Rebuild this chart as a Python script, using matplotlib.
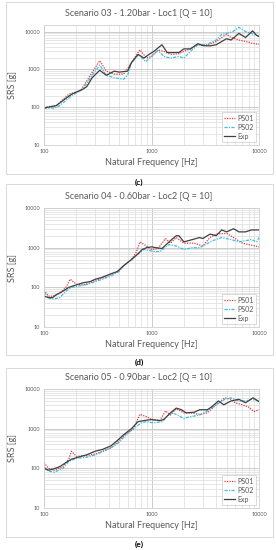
import numpy as np
import matplotlib
matplotlib.use('Agg')
import matplotlib.pyplot as plt
from matplotlib.patches import Rectangle
from matplotlib.ticker import FixedLocator, LogLocator, NullFormatter

plt.rcParams['font.family'] = ['Lato', 'DejaVu Sans']

# Scenario 03 - Loc1
f3_exp = [100, 130, 150, 180, 230, 250, 280, 330, 380, 450, 500, 600, 650, 750, 850, 950, 1050, 1250, 1400, 1600, 1800,
          2000, 2300, 2700, 3000, 3500, 4000, 4500, 5000, 5500, 6500, 7500, 8700, 9500, 10000]
s3_exp = [95, 110, 150, 220, 300, 350, 600, 950, 700, 900, 850, 900, 1500, 2500, 2000, 2500, 3000, 4500, 2800, 2800, 2800,
          3500, 3500, 4800, 4300, 4200, 4500, 5500, 6500, 6000, 9000, 7000, 10500, 8000, 7500]
f3_ps01 = [100, 130, 170, 220, 270, 330, 380, 450, 550, 650, 780, 900, 1000, 1150, 1300, 1500, 1800, 2000, 2300, 2700,
           3200, 4000, 4500, 5000, 5500, 6500, 7500, 8500, 10000]
s3_ps01 = [100, 110, 220, 280, 700, 1700, 900, 750, 750, 1500, 3300, 2000, 2200, 3300, 3000, 2500, 2600, 3000, 3500, 4500,
           4200, 5500, 7000, 8500, 7000, 6000, 5500, 5000, 4600]
f3_ps02 = [100, 125, 140, 180, 230, 270, 330, 380, 450, 550, 600, 650, 760, 880, 1000, 1150, 1300, 1500, 1800, 2000, 2300,
           2700, 3200, 4000, 4500, 5000, 5700, 6500, 7500, 8500, 10000]
s3_ps02 = [95, 95, 110, 200, 300, 600, 1300, 700, 600, 550, 700, 1500, 2500, 1600, 2200, 3200, 2200, 2000, 2200, 2000, 3000,
           4500, 4500, 6000, 8500, 9000, 10000, 13000, 10000, 9000, 7500]

# Scenario 04 - Loc2
f4_exp = [100, 110, 120, 130, 150, 170, 200, 230, 270, 300, 350, 420, 480, 550, 650, 750, 820, 900, 1000, 1100, 1250, 1500,
          1700, 1800, 2000, 2400, 2800, 3000, 3500, 4000, 4500, 5000, 5800, 6500, 7500, 8500, 10000]
s4_exp = [60, 55, 55, 65, 80, 100, 115, 130, 140, 160, 180, 220, 250, 350, 500, 700, 900, 1000, 1050, 1000, 950, 1500,
          2000, 2000, 1400, 1600, 1800, 1700, 2200, 2000, 2800, 2500, 3000, 2500, 2500, 2800, 2800]
f4_ps01 = [100, 110, 120, 140, 160, 175, 200, 230, 270, 300, 350, 420, 500, 550, 650, 720, 780, 900, 1000, 1150, 1350,
           1500, 1700, 2000, 2500, 3000, 3500, 4000, 5000, 6000, 7000, 8000, 10000]
s4_ps01 = [85, 60, 60, 70, 100, 160, 120, 115, 130, 150, 170, 210, 260, 350, 500, 750, 1400, 1100, 900, 950, 1700,
           1300, 1800, 1300, 1300, 1100, 1800, 2200, 2300, 1700, 1300, 1200, 1050]
f4_ps02 = [100, 110, 120, 140, 160, 180, 220, 260, 300, 350, 430, 500, 550, 650, 750, 850, 950, 1050, 1200, 1450, 1700,
           2000, 2400, 2800, 3200, 3700, 4500, 5500, 6500, 7500, 8500, 9500, 10000]
s4_ps02 = [75, 55, 50, 55, 80, 100, 110, 120, 140, 160, 200, 250, 350, 500, 700, 900, 850, 800, 800, 1200, 1100,
           900, 1000, 1000, 1200, 1500, 1800, 1600, 1400, 1500, 1600, 1400, 1800]

# Scenario 05 - Loc2
f5_exp = [100, 110, 120, 140, 160, 180, 220, 250, 300, 350, 420, 480, 550, 650, 750, 850, 1000, 1200, 1300, 1500, 1700,
          1900, 2100, 2500, 2800, 3300, 3600, 4200, 4700, 5500, 6500, 7500, 8800, 10000]
s5_exp = [100, 90, 95, 110, 140, 170, 200, 220, 270, 300, 370, 500, 700, 1000, 1500, 1600, 1700, 1600, 1700, 2500, 3300,
          3000, 2500, 2600, 3000, 3000, 3500, 5000, 4000, 5000, 5500, 4500, 6000, 4800]
f5_ps01 = [100, 110, 125, 150, 170, 180, 200, 250, 300, 350, 420, 480, 550, 680, 780, 900, 1000, 1200, 1350, 1500, 1700,
           2000, 2300, 2800, 3300, 4000, 4800, 5500, 6000, 7000, 8000, 9000, 10000]
s5_ps01 = [140, 100, 90, 110, 170, 270, 200, 210, 230, 270, 330, 450, 650, 1000, 2300, 2000, 1700, 1600, 2800, 2200, 3200,
           2500, 2500, 2300, 2500, 4000, 6000, 5500, 4500, 4000, 3500, 2700, 3000]
f5_ps02 = [100, 110, 125, 150, 170, 200, 250, 300, 350, 420, 500, 580, 680, 800, 900, 1050, 1250, 1500, 1700, 2000, 2300,
           2800, 3300, 4000, 4800, 5500, 6500, 7500, 8500, 10000]
s5_ps02 = [110, 85, 80, 100, 150, 180, 190, 220, 260, 330, 450, 700, 1000, 1400, 1500, 1400, 1500, 2500, 2300, 1800, 2000,
           2200, 2800, 4000, 5500, 6000, 5000, 5000, 5500, 5000]

titles = ['Scenario 03 - 1.20bar - Loc1 [Q = 10]',
          'Scenario 04 - 0.60bar - Loc2 [Q = 10]',
          'Scenario 05 - 0.90bar - Loc2 [Q = 10]']
captions = ['(c)', '(d)', '(e)']
ymax = [15000, 10000, 10000]

W, H = 276, 550
fig = plt.figure(figsize=(W / 100, H / 100), dpi=100)

# pixel layout: plot box (left, top, right, bottom), frame (top, bottom), title y, caption y
boxes = [(44, 25, 259, 145), (44, 208, 259, 327), (44, 389, 259, 508)]
frames = [(2, 174), (184, 355), (368, 537)]
title_y = [14, 196, 378]
cap_y = [182, 362, 544]

data = [(f3_ps01, s3_ps01, f3_ps02, s3_ps02, f3_exp, s3_exp),
        (f4_ps01, s4_ps01, f4_ps02, s4_ps02, f4_exp, s4_exp),
        (f5_ps01, s5_ps01, f5_ps02, s5_ps02, f5_exp, s5_exp)]

gray = '#595959'
for i in range(3):
    l, t, r, b = boxes[i]
    ax = fig.add_axes([l / W, 1 - b / H, (r - l) / W, (b - t) / H])
    fa, sa, fb, sb, fe, se = data[i]
    ax.plot(fa, sa, color='#e8393b', lw=0.9, ls=(0, (1, 1)), label='PS01')
    ax.plot(fb, sb, color='#3cbfe4', lw=0.9, ls=(0, (2.5, 1, 1, 1)), label='PS02')
    ax.plot(fe, se, color='#404040', lw=0.9, label='Exp')
    ax.set_xscale('log')
    ax.set_yscale('log')
    ax.set_xlim(100, 10000)
    ax.set_ylim(10, ymax[i])
    ax.xaxis.set_major_locator(FixedLocator([100, 1000, 10000]))
    ax.yaxis.set_major_locator(FixedLocator([10, 100, 1000, 10000]))
    ax.xaxis.set_minor_locator(LogLocator(base=10, subs=np.arange(2, 10)))
    ax.yaxis.set_minor_locator(LogLocator(base=10, subs=np.arange(2, 10)))
    ax.xaxis.set_minor_formatter(NullFormatter())
    ax.yaxis.set_minor_formatter(NullFormatter())
    ax.set_xticklabels(['100', '1000', '10000'])
    ax.set_yticklabels(['10', '100', '1000', '10000'])
    ax.tick_params(which='both', length=0, labelsize=4, colors=gray, pad=3)
    ax.grid(which='major', color='#c4c4c4', lw=0.6)
    ax.grid(which='minor', color='#dcdcdc', lw=0.5)
    ax.set_axisbelow(True)
    for s in ax.spines.values():
        s.set_color('#d0d0d0')
        s.set_linewidth(0.6)
    ax.set_xlabel('Natural Frequency [Hz]', fontsize=6.5, color=gray, labelpad=3)
    ax.set_ylabel('SRS [g]', fontsize=6.5, color=gray, labelpad=5)
    leg = ax.legend(loc='lower right', fontsize=5, frameon=True, fancybox=False,
                    handlelength=1.6, handletextpad=0.3, borderpad=0.35, labelspacing=0.3,
                    borderaxespad=0.4)
    leg.get_frame().set_edgecolor('#bfbfbf')
    leg.get_frame().set_linewidth(0.5)
    for txt in leg.get_texts():
        txt.set_color(gray)

    ft, fb_ = frames[i]
    fig.add_artist(Rectangle((6 / W, 1 - fb_ / H), 267 / W, (fb_ - ft) / H, transform=fig.transFigure,
                             fill=False, edgecolor='#d9d9d9', lw=0.7))
    fig.text(139 / W, 1 - title_y[i] / H, titles[i], fontsize=6.5, color=gray, ha='center', va='center')
    fig.text(139 / W, 1 - cap_y[i] / H, captions[i], fontsize=6, color='black', ha='center', va='center',
             fontweight='bold')

fig.savefig('out.png', dpi=100)
